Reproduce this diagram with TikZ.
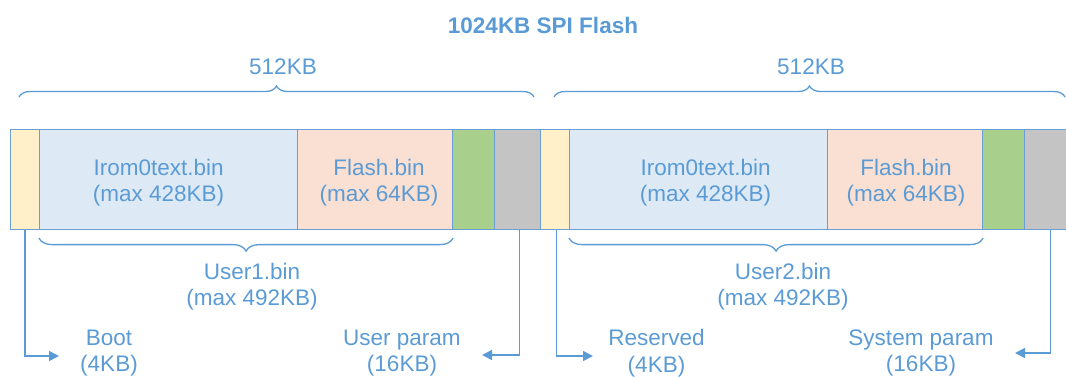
\documentclass[tikz,border=0pt]{standalone}
\usepackage{fontspec}
\setmainfont{Liberation Sans}
\usetikzlibrary{arrows.meta,decorations.pathreplacing}

\definecolor{txtblue}{HTML}{5B9BD5}
\definecolor{edgeblue}{HTML}{6A9FD6}
\definecolor{bootfill}{HTML}{FFF0C9}
\definecolor{iromfill}{HTML}{DDEAF6}
\definecolor{flashfill}{HTML}{FAE0D2}
\definecolor{parfill}{HTML}{A8D08C}
\definecolor{sysfill}{HTML}{C4C4C4}

\tikzset{
  seg/.style={draw=edgeblue, line width=1.1pt, minimum height=100pt,
    inner sep=0pt, anchor=north west},
  lbl/.style={text=txtblue, align=center, inner sep=0pt,
    font=\fontsize{22.5}{26.5}\selectfont},
  ttl/.style={text=txtblue, inner sep=0pt,
    font=\fontsize{22.5}{26.5}\selectfont\bfseries},
  brc/.style={draw=txtblue, line width=1.3pt,
    decorate, decoration={brace, amplitude=#1}},
  arr/.style={draw=txtblue, line width=1.5pt,
    -{Triangle[length=10pt,width=10pt]}},
}

\begin{document}
\begin{tikzpicture}[x=1pt,y=-1pt]
\useasboundingbox (0,0) rectangle (1066,376);

% title and the two halves
\node[ttl] (title) at (543,25) {1024KB SPI Flash};
\node[lbl] (halfA) at (283,67) {512KB};
\node[lbl] (halfB) at (811,67) {512KB};

% first 512KB bank
\node[seg, fill=bootfill,  minimum width=29pt]  (boot1)  at (10,129)  {};
\node[seg, fill=iromfill,  minimum width=258pt] (irom1)  at (39,129)  {};
\node[seg, fill=flashfill, minimum width=155pt] (flash1) at (297,129) {};
\node[seg, fill=parfill,   minimum width=42pt]  (par1)   at (452,129) {};
\node[seg, fill=sysfill,   minimum width=46pt]  (gray1)  at (494,129) {};

% second 512KB bank
\node[seg, fill=bootfill,  minimum width=29pt]  (boot2)  at (540,129) {};
\node[seg, fill=iromfill,  minimum width=258pt] (irom2)  at (569,129) {};
\node[seg, fill=flashfill, minimum width=155pt] (flash2) at (827,129) {};
\node[seg, fill=parfill,   minimum width=42pt]  (par2)   at (982,129) {};
\node[seg, fill=sysfill,   minimum width=46pt]  (gray2)  at (1024,129) {};

% segment captions
\node[lbl] (iromtxt1)  at ([xshift=-10pt,yshift=-3pt]irom1.center)  {Irom0text.bin\\(max 428KB)};
\node[lbl] (flashtxt1) at ([xshift=4pt,yshift=-3pt]flash1.center)   {Flash.bin\\(max 64KB)};
\node[lbl] (iromtxt2)  at ([xshift=7pt,yshift=-3pt]irom2.center)    {Irom0text.bin\\(max 428KB)};
\node[lbl] (flashtxt2) at ([xshift=1pt,yshift=-3pt]flash2.center)   {Flash.bin\\(max 64KB)};

% braces over each half
\draw[brc=11pt] (19,97) -- (534,97);
\draw[brc=11pt] (554,97) -- (1065,97);

% braces under the user images
\draw[brc=13pt] ([yshift=-8pt]flash1.south east) -- ([yshift=-8pt]irom1.south west);
\draw[brc=13pt] ([yshift=-8pt]flash2.south east) -- ([yshift=-8pt]irom2.south west);

\node[lbl] (user1) at (252,286.5) {User1.bin\\(max 492KB)};
\node[lbl] (user2) at (783,286.5) {User2.bin\\(max 492KB)};

% bottom captions
\node[lbl] (bootlbl)  at (109,353) {Boot\\(4KB)};
\node[lbl] (uparlbl)  at (402,353) {User param\\(16KB)};
\node[lbl] (reslbl)   at (656.5,353) {Reserved\\(4KB)};
\node[lbl] (sparlbl)  at (921,353) {System param\\(16KB)};

% arrow ends
\coordinate (e1) at (59,356);
\coordinate (e2) at (482,355);
\coordinate (e3) at (593,356);
\coordinate (e4) at (1015,353);

\draw[arr] (boot1.south) |- (e1);
\draw[arr] ([xshift=2pt]gray1.south) |- (e2);
\draw[arr] ([xshift=1.5pt]boot2.south) |- (e3);
\draw[arr] ([xshift=3pt]gray2.south) |- (e4);
\end{tikzpicture}
\end{document}
